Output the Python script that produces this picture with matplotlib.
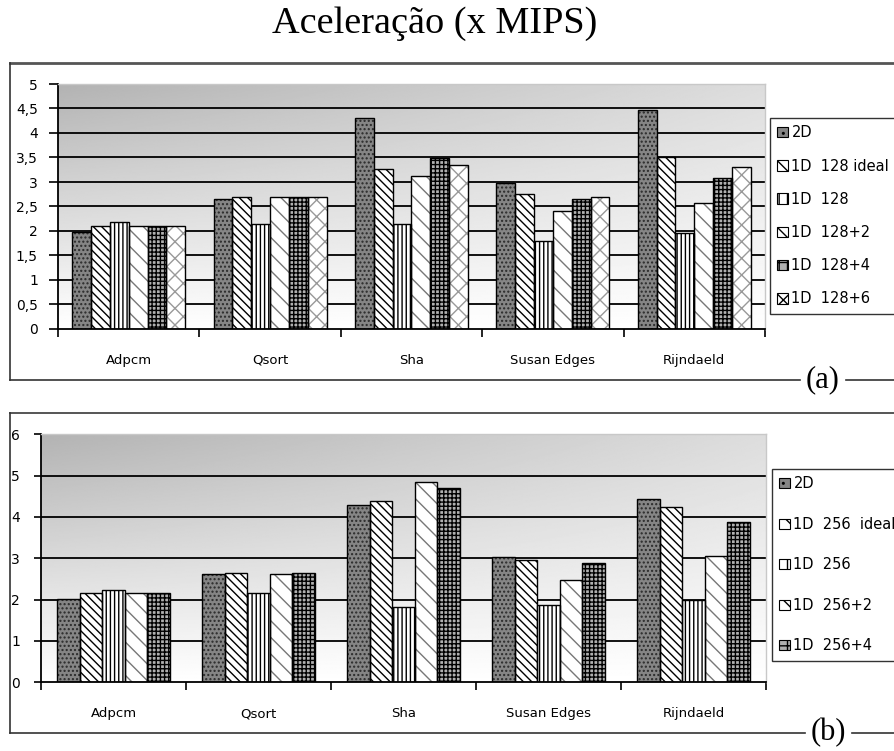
import numpy as np
import matplotlib.pyplot as plt
from matplotlib.lines import Line2D
from matplotlib.patches import Patch
from matplotlib.ticker import FuncFormatter, FixedLocator

plt.rcParams['font.family'] = ['DejaVu Sans']
plt.rcParams['hatch.linewidth'] = 1.0

W, H = 895, 751

programs = ["Adpcm", "Qsort", "Sha", "Susan Edges", "Rijndaeld"]

# (a) 128-entry configurations
labels_a = ["2D", "1D  128 ideal", "1D  128", "1D  128+2", "1D  128+4", "1D  128+6"]
a_2d = [1.97, 2.65, 4.31, 2.97, 4.46]
a_128_ideal = [2.11, 2.70, 3.27, 2.76, 3.52]
a_128 = [2.18, 2.15, 2.15, 1.80, 1.95]
a_128_p2 = [2.11, 2.70, 3.12, 2.41, 2.57]
a_128_p4 = [2.11, 2.70, 3.49, 2.65, 3.08]
a_128_p6 = [2.11, 2.70, 3.34, 2.70, 3.31]

# (b) 256-entry configurations
labels_b = ["2D", "1D  256  ideal", "1D  256", "1D  256+2", "1D  256+4"]
b_2d = [2.01, 2.61, 4.29, 3.02, 4.44]
b_256_ideal = [2.15, 2.65, 4.39, 2.96, 4.25]
b_256 = [2.24, 2.15, 1.83, 1.87, 1.99]
b_256_p2 = [2.15, 2.61, 4.84, 2.47, 3.06]
b_256_p4 = [2.15, 2.65, 4.71, 2.89, 3.89]

# face, hatch, hatch colour for each series
styles = [
    ("#858585", "....", "#2a2a2a"),
    ("white", "\\\\\\\\", "black"),
    ("white", "||||", "black"),
    ("white", "\\\\", "#777777"),
    ("#b0b0b0", "++++", "black"),
    ("white", "xx", "#999999"),
]


def px(x, y):
    return x / W, 1 - y / H


def comma(v, pos):
    return f"{v:g}".replace(".", ",")


def gradient(ax):
    ny, nx = 200, 300
    ty = np.linspace(0, 1, ny)[:, None]   # 0 at bottom
    tx = np.linspace(0, 1, nx)[None, :]
    d = ty * (1 - 0.55 * tx)
    img = 1 - 0.30 * d
    ax.imshow(img, cmap="gray", vmin=0, vmax=1, extent=[0, 1, 0, 1],
              transform=ax.transAxes, origin="lower", aspect="auto", zorder=0)


def panel(ax, series, labels, group, ymax, ystep):
    n = len(series)
    w = group / n
    x = np.arange(len(programs))
    handles = []
    for i, (vals, lab) in enumerate(zip(series, labels)):
        face, hatch, hcol = styles[i]
        pos = x - group / 2 + w * (i + 0.5)
        ax.bar(pos, vals, w, color=face, hatch=hatch, edgecolor=hcol,
               linewidth=0, zorder=2)
        ax.bar(pos, vals, w, fill=False, edgecolor="black", linewidth=1.0,
               zorder=3)
        handles.append(Patch(facecolor=face, hatch=hatch[:2], edgecolor="black",
                             linewidth=0.8, label=lab))
    gradient(ax)
    ax.set_xlim(-0.5, len(programs) - 0.5)
    ax.set_ylim(0, ymax)
    ax.set_yticks(np.arange(0, ymax + ystep / 2, ystep))
    ax.yaxis.set_major_formatter(FuncFormatter(comma))
    for y in np.arange(ystep, ymax - ystep / 2, ystep):
        ax.axhline(y, color="black", linewidth=1.3, zorder=1)
    ax.set_xticks(x)
    ax.set_xticklabels(programs, va="baseline")
    ax.xaxis.set_minor_locator(FixedLocator(np.arange(-0.5, len(programs), 1)))
    ax.tick_params(axis="x", which="major", length=0, pad=25, labelsize=9.5)
    ax.tick_params(axis="x", which="minor", length=6, width=1.2, direction="out")
    ax.tick_params(axis="y", width=1.2, labelsize=10)
    for s in ("left", "bottom"):
        ax.spines[s].set_linewidth(1.3)
    for s in ("top", "right"):
        ax.spines[s].set_color("#c8c8c8")
        ax.spines[s].set_linewidth(1.0)
    return handles


fig = plt.figure(figsize=(W / 100, H / 100), dpi=100)

ax1 = fig.add_axes([58 / W, 1 - 329 / H, 707 / W, 245 / H])
h1 = panel(ax1, [a_2d, a_128_ideal, a_128, a_128_p2, a_128_p4, a_128_p6],
           labels_a, 0.8, 5, 0.5)
ax1.tick_params(axis="y", length=6.5, pad=8)

ax2 = fig.add_axes([41 / W, 1 - 682.3 / H, 725 / W, 248 / H])
h2 = panel(ax2, [b_2d, b_256_ideal, b_256, b_256_p2, b_256_p4],
           labels_b, 0.775, 6, 1)
ax2.tick_params(axis="y", length=5, pad=10)

leg_kw = dict(loc="upper left", frameon=True, fancybox=False, fontsize=10.5,
              handlelength=0.72, handleheight=0.72, handletextpad=0.25,
              borderpad=0.5, borderaxespad=0)
leg1 = fig.legend(handles=h1, bbox_to_anchor=px(770, 118), labelspacing=1.25,
                  **leg_kw)
leg2 = fig.legend(handles=h2, bbox_to_anchor=px(772, 469), labelspacing=1.75,
                  **leg_kw)
for leg in (leg1, leg2):
    leg.get_frame().set_edgecolor("black")
    leg.get_frame().set_linewidth(1.0)

fig.text(*px(435, 24), "Aceleração (x MIPS)", family="Liberation Serif",
         fontsize=27.5, ha="center", va="center")

# frames around each panel, with the (a)/(b) tags on the bottom border
def frame(top, bottom, gap0, gap1, tag, tag_x, top_lw):
    fig.add_artist(Line2D([px(10, 0)[0], 1], [px(0, top)[1]] * 2,
                          color="#555555", linewidth=top_lw))
    fig.add_artist(Line2D([px(10, 0)[0]] * 2, [px(0, top)[1], px(0, bottom)[1]],
                          color="#333333", linewidth=1.2))
    fig.add_artist(Line2D([px(10, 0)[0], px(gap0, 0)[0]], [px(0, bottom)[1]] * 2,
                          color="#333333", linewidth=1.2))
    fig.add_artist(Line2D([px(gap1, 0)[0], 1], [px(0, bottom)[1]] * 2,
                          color="#333333", linewidth=1.2))
    fig.text(*px(tag_x, bottom), tag, family="Liberation Serif", fontsize=22,
             ha="center", va="center")


frame(63, 380, 800, 846, "(a)", 823, 2.0)
frame(413, 733, 805, 852, "(b)", 828, 1.4)

fig.savefig("out.png", dpi=100)
